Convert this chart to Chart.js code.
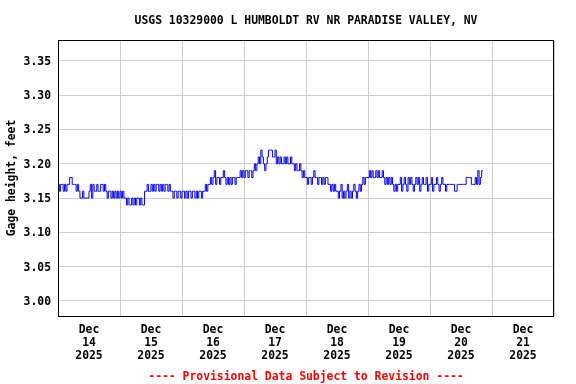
<!DOCTYPE html>
<html>
<head>
    <meta charset="utf-8" />
    <title>USGS 10329000 Gage height</title>
    <script src="https://cdn.jsdelivr.net/npm/chart.js"></script>
    <style>
        body { margin: 0; background: #fff; }
    </style>
</head>
<body>
    <canvas id="chart" width="576" height="384"></canvas>

    <script>
        // Gage height readings, feet, every 30 minutes starting Dec 14 00:00
        const dec14 = [3.17,3.16,3.17,3.17,3.16,3.17,3.16,3.17,3.17,3.18,3.18,3.17,3.17,3.17,3.16,3.17,3.16,3.15,3.15,3.16,3.15,3.15,3.15,3.15,
                       3.16,3.17,3.15,3.17,3.16,3.16,3.17,3.16,3.16,3.17,3.17,3.16,3.17,3.16,3.15,3.16,3.16,3.15,3.16,3.15,3.16,3.15,3.16,3.15];
        const dec15 = [3.16,3.15,3.16,3.15,3.15,3.14,3.15,3.14,3.14,3.15,3.14,3.15,3.14,3.15,3.15,3.14,3.15,3.14,3.14,3.16,3.16,3.17,3.16,3.16,
                       3.17,3.16,3.17,3.16,3.17,3.17,3.16,3.17,3.16,3.17,3.16,3.17,3.17,3.16,3.17,3.16,3.16,3.15,3.16,3.16,3.15,3.16,3.16,3.15];
        const dec16 = [3.16,3.16,3.15,3.16,3.15,3.16,3.16,3.15,3.16,3.16,3.15,3.16,3.15,3.16,3.16,3.15,3.16,3.16,3.17,3.16,3.17,3.17,3.18,3.17,
                       3.18,3.19,3.17,3.18,3.18,3.17,3.18,3.18,3.19,3.18,3.17,3.18,3.17,3.18,3.17,3.18,3.18,3.17,3.18,3.18,3.18,3.19,3.18,3.19];
        const dec17 = [3.18,3.19,3.19,3.18,3.19,3.19,3.18,3.19,3.20,3.19,3.20,3.21,3.20,3.22,3.21,3.20,3.19,3.20,3.21,3.22,3.22,3.22,3.21,3.21,
                       3.22,3.20,3.21,3.20,3.21,3.20,3.20,3.21,3.20,3.21,3.20,3.20,3.21,3.20,3.20,3.19,3.20,3.19,3.19,3.20,3.19,3.18,3.19,3.18];
        const dec18 = [3.18,3.17,3.18,3.18,3.17,3.18,3.19,3.18,3.18,3.17,3.18,3.18,3.17,3.18,3.17,3.18,3.18,3.17,3.17,3.16,3.17,3.16,3.17,3.16,
                       3.16,3.15,3.16,3.17,3.15,3.16,3.15,3.16,3.17,3.15,3.16,3.15,3.16,3.17,3.16,3.15,3.16,3.17,3.16,3.17,3.18,3.17,3.18,3.18];
        const dec19 = [3.18,3.19,3.18,3.19,3.18,3.18,3.19,3.18,3.19,3.18,3.18,3.19,3.18,3.17,3.18,3.17,3.18,3.17,3.18,3.17,3.16,3.17,3.16,3.17,
                       3.17,3.18,3.16,3.17,3.18,3.17,3.16,3.18,3.17,3.18,3.17,3.16,3.17,3.18,3.17,3.18,3.16,3.17,3.18,3.17,3.17,3.18,3.16,3.17];
        const dec20 = [3.17,3.18,3.16,3.17,3.17,3.18,3.17,3.16,3.17,3.18,3.17,3.17,3.16,3.17,3.17,3.17,3.17,3.17,3.17,3.16,3.16,3.17,3.17,3.17,
                       3.17,3.17,3.17,3.17,3.18,3.18,3.18,3.18,3.17,3.17,3.17,3.18,3.17,3.19,3.17,3.18,3.19,3.19];
        const stepHours = 0.5;

        // Axis labels
        const month = 'Dec';
        const year = '2025';
        const dayLabels = ['14', '15', '16', '17', '18', '19', '20', '21'];
        const titleText = 'USGS 10329000 L HUMBOLDT RV NR PARADISE VALLEY, NV';
        const footerText = '---- Provisional Data Subject to Revision ----';
        const yTitle = 'Gage height, feet';

        const gageHeight = [].concat(dec14, dec15, dec16, dec17, dec18, dec19, dec20);
        const points = gageHeight.map((v, i) => ({x: i * stepHours, y: v}));

        const monoFont = "'DejaVu Sans Mono', 'Liberation Mono', monospace";
        const tickFont = {family: monoFont, size: 11.4, weight: 'bold', lineHeight: '13px'};

        // Title, footer and the closed frame round the plot
        const framePlugin = {
            id: 'frame',
            afterDraw(chart) {
                const ctx = chart.ctx;
                const a = chart.chartArea;
                const cx = (a.left + a.right) / 2;
                ctx.save();
                ctx.strokeStyle = '#000';
                ctx.lineWidth = 1;
                ctx.strokeRect(Math.round(a.left) + 0.5, Math.round(a.top) + 0.5,
                               Math.round(a.width) - 1, Math.round(a.height));
                ctx.font = 'bold 11.4px ' + monoFont;
                ctx.textAlign = 'center';
                ctx.textBaseline = 'middle';
                ctx.fillStyle = '#000';
                ctx.fillText(titleText, cx, 21);
                ctx.fillStyle = '#ff0000';
                ctx.fillText(footerText, cx, 377);
                ctx.restore();
            }
        };

        new Chart(document.getElementById('chart'), {
            type: 'line',
            data: {
                datasets: [{
                    data: points,
                    borderColor: '#0000ff',
                    borderWidth: 1,
                    pointRadius: 0,
                    stepped: true,
                    fill: false
                }]
            },
            options: {
                responsive: false,
                animation: false,
                devicePixelRatio: 1,
                layout: {padding: {top: 40, right: 22, left: 0, bottom: 0}},
                plugins: {
                    legend: {display: false},
                    tooltip: {enabled: false},
                    title: {display: false}
                },
                scales: {
                    x: {
                        type: 'linear',
                        min: 0,
                        max: 192,
                        afterFit: s => { s.height = 68; },
                        border: {display: false},
                        grid: {
                            drawTicks: false,
                            color: c => (c.tick && c.tick.value % 24 === 0) ? '#cccccc' : 'rgba(0,0,0,0)'
                        },
                        ticks: {
                            stepSize: 12,
                            maxTicksLimit: 20,
                            autoSkip: false,
                            maxRotation: 0,
                            padding: 8,
                            color: '#000',
                            font: tickFont,
                            callback: v => {
                                if (v % 24 !== 12) return '';
                                return [month, dayLabels[(v - 12) / 24], year];
                            }
                        }
                    },
                    y: {
                        min: 2.978,
                        max: 3.3806,
                        afterFit: s => { s.width = 58; },
                        border: {display: false},
                        grid: {drawTicks: false, color: '#cccccc'},
                        title: {
                            display: true,
                            text: yTitle,
                            color: '#000',
                            font: {family: monoFont, size: 11.4, weight: 'bold'},
                            padding: {top: 5, bottom: 0}
                        },
                        ticks: {
                            stepSize: 0.05,
                            includeBounds: false,
                            padding: 7,
                            labelOffset: 1,
                            color: '#000',
                            font: tickFont,
                            callback: v => v.toFixed(2)
                        }
                    }
                }
            },
            plugins: [framePlugin]
        });
    </script>
</body>
</html>
